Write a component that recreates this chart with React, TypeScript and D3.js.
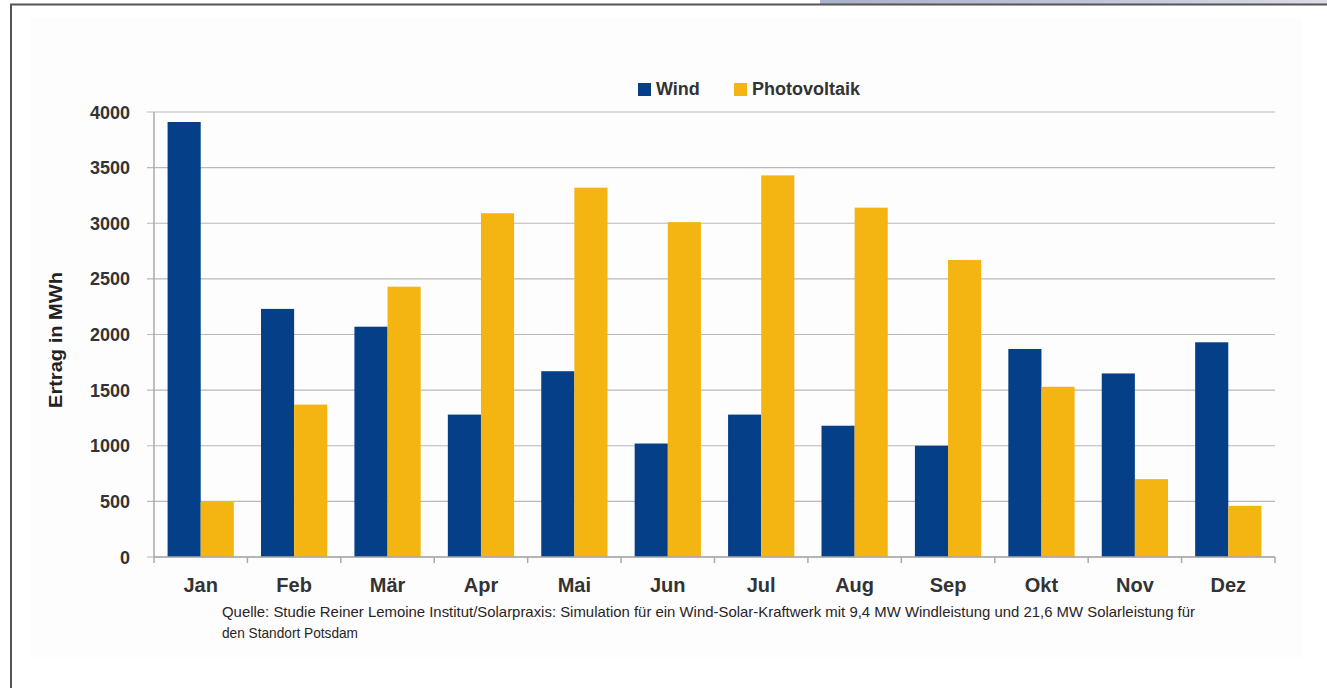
import React from "react";
import * as d3 from "d3";

const months = ["Jan", "Feb", "Mär", "Apr", "Mai", "Jun", "Jul", "Aug", "Sep", "Okt", "Nov", "Dez"];
const windValues = [3910, 2230, 2070, 1280, 1670, 1020, 1280, 1180, 1000, 1870, 1650, 1930];
const pvValues = [495, 1370, 2430, 3090, 3320, 3010, 3430, 3140, 2670, 1530, 700, 460];
const yTicks = [0, 500, 1000, 1500, 2000, 2500, 3000, 3500, 4000];
const seriesNames = ["Wind", "Photovoltaik"];
const yTitle = "Ertrag in MWh";
const sourceLines = [
  "Quelle: Studie Reiner Lemoine Institut/Solarpraxis: Simulation für ein Wind-Solar-Kraftwerk mit 9,4 MW Windleistung und 21,6 MW Solarleistung für",
  "den Standort Potsdam",
];

const W = 1327;
const H = 688;
const COLORS = ["#043f88", "#f4b512"];
const FONT = "'Liberation Sans', Arial, sans-serif";

export default function App() {
  const x0 = 154, x1 = 1275, yTop = 112, yBot = 557;
  const x = d3.scaleBand<string>().domain(months).range([x0, x1]).paddingInner(0).paddingOuter(0);
  const y = d3.scaleLinear().domain([0, 4000]).range([yBot, yTop]);
  const bw = x.bandwidth();
  const sub = d3.scaleBand<string>().domain(seriesNames).range([0, bw]).paddingOuter(0.41).paddingInner(0);
  const series = [windValues, pvValues];

  return (
    <svg width={W} height={H} style={{ position: "absolute", left: 0, top: 0, background: "#fff" }} fontFamily={FONT}>
      <defs>
        <linearGradient id="strip" x1="0" x2="1" y1="0" y2="0">
          <stop offset="0" stopColor="#a9b0cc" />
          <stop offset="0.5" stopColor="#bfc3d8" />
          <stop offset="1" stopColor="#dcdbe6" />
        </linearGradient>
      </defs>
      <rect x={0} y={0} width={W} height={H} fill="#ffffff" />
      <rect x={820} y={0} width={W - 820} height={4} fill="url(#strip)" />
      <rect x={30} y={18} width={1272} height={640} fill="#fdfdfe" />
      {/* frame */}
      <line x1={10} x2={W} y1={4.5} y2={4.5} stroke="#555" strokeWidth={2} />
      <line x1={11} x2={11} y1={4} y2={H} stroke="#555" strokeWidth={2} />

      {/* legend */}
      <rect x={638} y={83} width={13} height={13} fill={COLORS[0]} />
      <text x={656} y={95} fontSize={18} fill="#333" fontWeight="bold">{seriesNames[0]}</text>
      <rect x={734} y={83} width={13} height={13} fill={COLORS[1]} />
      <text x={752} y={95} fontSize={18} fill="#333" fontWeight="bold">{seriesNames[1]}</text>

      {/* gridlines */}
      {yTicks.map((t) => (
        <line key={t} x1={147} x2={x1} y1={y(t)} y2={y(t)} stroke="#b9b9b9" strokeWidth={1.2} />
      ))}
      {yTicks.map((t) => (
        <text key={"l" + t} x={130} y={y(t) + 6.5} textAnchor="end" fontSize={18} fontWeight="bold" fill="#333">
          {t}
        </text>
      ))}
      {/* axis */}
      <line x1={x0} x2={x0} y1={yTop} y2={yBot + 6} stroke="#a9a9a9" strokeWidth={1.5} />
      {months.map((m) => (
        <line key={"t" + m} x1={x(m)! + bw} x2={x(m)! + bw} y1={yBot} y2={yBot + 6} stroke="#a9a9a9" strokeWidth={1.5} />
      ))}

      {/* bars */}
      {series.map((vals, si) =>
        vals.map((v, i) => (
          <rect
            key={si + "-" + i}
            x={x(months[i])! + sub(seriesNames[si])!}
            y={y(v)}
            width={sub.bandwidth()}
            height={yBot - y(v)}
            fill={COLORS[si]}
          />
        ))
      )}
      <line x1={x0} x2={x1} y1={yBot} y2={yBot} stroke="#a9a9a9" strokeWidth={1.5} />

      {months.map((m) => (
        <text key={"m" + m} x={x(m)! + bw / 2} y={592} textAnchor="middle" fontSize={20} fontWeight="bold" fill="#333">
          {m}
        </text>
      ))}

      <text
        transform={`translate(62,340) rotate(-90)`}
        textAnchor="middle"
        fontSize={19}
        fontWeight="bold"
        fill="#222"
        textLength={136}
        lengthAdjust="spacingAndGlyphs"
      >
        {yTitle}
      </text>

      <text x={222} y={617} fontSize={14.5} fill="#2a2424" textLength={973} lengthAdjust="spacingAndGlyphs">
        {sourceLines[0]}
      </text>
      <text x={222} y={638} fontSize={14.5} fill="#2a2424" textLength={136} lengthAdjust="spacingAndGlyphs">
        {sourceLines[1]}
      </text>
    </svg>
  );
}
